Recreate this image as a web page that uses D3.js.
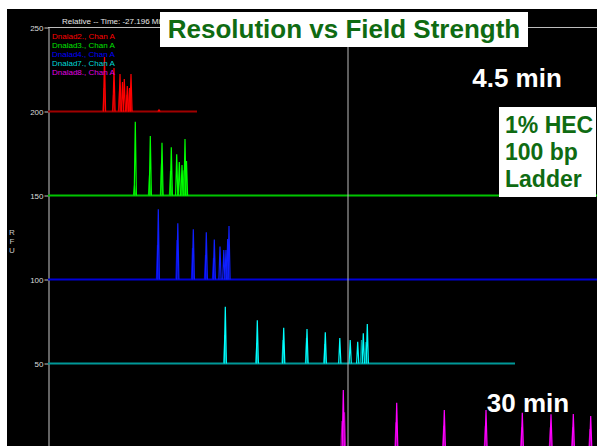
<!DOCTYPE html>
<html><head><meta charset="utf-8">
<script src="https://cdn.jsdelivr.net/npm/d3@7"></script>
<style>
html,body{margin:0;padding:0;background:#fff;overflow:hidden;}
svg{display:block;}
</style></head>
<body>
<svg id="chart" width="597" height="446"></svg>
<script>
// ---------- data (x in scan units, heights in RFU above each trace's offset) ----------
const yTicks = [0, 50, 100, 150, 200, 250];
const traceNames = ["Dnalad2., Chan A","Dnalad3., Chan A","Dnalad4., Chan A","Dnalad7., Chan A","Dnalad8., Chan A"];
const traceOffsets = [200, 150, 100, 50, 0];
const traceStart = [0, 0, 0, 0, 0];
const traceEnd = [149, 550, 550, 467, 550];

const redPeakX = [56.5, 66, 72, 74.5, 76.3, 79.3, 81.5, 83, 111];
const redPeakH = [32.4, 25.9, 22.3, 17.6, 19.3, 15.2, 14, 22.3, 1];
const redShoulderX = [56, 65.5, 71.5, 78.8, 82.5];
const redShoulderH = [14, 10, 12, 10, 12];

const greenPeakX = [87.3, 102.3, 114, 123.3, 128.7, 131.3, 134, 137, 138.5];
const greenPeakH = [43.9, 35.4, 31.4, 28.7, 24.5, 19.9, 18.2, 33.6, 20.5];
const greenShoulderX = [86.5, 101.5, 113.5, 122.5, 135];
const greenShoulderH = [6, 12, 19, 14.6, 15];

const bluePeakX = [110.3, 129.8, 145.3, 158.3, 166.3, 172, 175.8, 178, 179.7, 181];
const bluePeakH = [41.8, 33.5, 29.9, 28.1, 23.8, 19.6, 17.6, 17.6, 24.1, 31.8];
const blueShoulderX = [109.5, 129, 144.5, 157.5, 165.5];
const blueShoulderH = [20.5, 23.5, 18.8, 14.6, 12.8];

const cyanPeakX = [177.3, 209.3, 235.7, 259, 277.3, 291.8, 302.2, 309.7, 315.3, 319.3];
const cyanPeakH = [33.8, 25.7, 21.3, 20.5, 18.6, 15.2, 14, 13, 18, 23.5];
const cyanShoulderX = [176.8, 208.8, 235, 258.5, 276.8, 313.5, 318];
const cyanShoulderH = [17, 12.2, 14, 15.2, 11.6, 14, 12.8];

const magentaPeakX = [295.3, 348.7, 396.3, 438, 474.3, 503, 525.3, 542.7];
const magentaPeakH = [34.2, 26.7, 22.3, 22.3, 20.7, 19.8, 19.9, 18.8];
const magentaShoulderX = [294, 296.5, 348, 395.7, 437.4, 473.7, 502.4, 524.7, 542];
const magentaShoulderH = [15.8, 21, 15, 13, 13, 12, 12, 12, 11];

const cursorX = 300;

// ---------- styles ----------
const brightColors = ["#ff0000", "#00ff00", "#1020ff", "#00ffff", "#ff00ff"];
const darkColors   = ["#a00000", "#00c400", "#0000d8", "#009898", "#a000a0"];
const legendColors = ["#ff0000", "#00e000", "#0000ff", "#00d8d8", "#e000e0"];

const peaks = [
  {px: redPeakX, ph: redPeakH, sx: redShoulderX, sh: redShoulderH},
  {px: greenPeakX, ph: greenPeakH, sx: greenShoulderX, sh: greenShoulderH},
  {px: bluePeakX, ph: bluePeakH, sx: blueShoulderX, sh: blueShoulderH},
  {px: cyanPeakX, ph: cyanPeakH, sx: cyanShoulderX, sh: cyanShoulderH},
  {px: magentaPeakX, ph: magentaPeakH, sx: magentaShoulderX, sh: magentaShoulderH}
];

const svg = d3.select("#chart");
const W = 597, H = 446;
const font = "'Liberation Sans', Arial, sans-serif";

// black panel
svg.append("rect").attr("x", 7).attr("y", 9).attr("width", W - 7).attr("height", H - 9).attr("fill", "#000");

const x = d3.scaleLinear().domain([0, 550]).range([48, 598]);
const y = d3.scaleLinear().domain([0, 250]).range([447.5, 27.5]);

// frame top line
svg.append("line").attr("x1", 48).attr("x2", W).attr("y1", y(250)).attr("y2", y(250))
  .attr("stroke", "#bdbdbd").attr("stroke-width", 1);

// y axis
const yAxis = svg.append("g").attr("transform", "translate(48.5,0)")
  .call(d3.axisLeft(y).tickValues(yTicks).tickSize(4).tickSizeOuter(0).tickPadding(1));
yAxis.select(".domain").attr("stroke", "#c8c8c8");
yAxis.selectAll(".tick line").attr("stroke", "#c8c8c8");
yAxis.selectAll(".tick text").attr("fill", "#dcdcdc")
  .style("font-family", font).style("font-size", "8px");

// RFU label
["R", "F", "U"].forEach((c, i) => {
  svg.append("text").attr("x", 12).attr("y", 235 + i * 9).attr("text-anchor", "middle")
    .attr("fill", "#c8c8c8").style("font-family", font)
    .style("font-size", "8px").text(c);
});

const line = d3.line().x(d => x(d[0])).y(d => y(d[1]));
const halfW = 1.1;

// traces
traceOffsets.forEach((off, i) => {
  const g = svg.append("g");
  g.append("path").datum([[traceStart[i], off], [traceEnd[i], off]])
    .attr("d", line).attr("fill", "none").attr("stroke", darkColors[i]).attr("stroke-width", 1.8);
  const p = peaks[i];
  p.sx.forEach((sx, k) => {
    g.append("path").datum([[sx - halfW, off], [sx, off + p.sh[k]], [sx + halfW, off]])
      .attr("d", line).attr("fill", "none").attr("stroke", darkColors[i]).attr("stroke-width", 1.2);
  });
  p.px.forEach((px, k) => {
    g.append("path").datum([[px - halfW, off], [px, off + p.ph[k]], [px + halfW, off]])
      .attr("d", line).attr("fill", "none").attr("stroke", brightColors[i]).attr("stroke-width", 1.2);
  });
});

// cursor line
svg.append("line").attr("x1", x(cursorX)).attr("x2", x(cursorX)).attr("y1", y(250)).attr("y2", H)
  .attr("stroke", "#bbbbbb").attr("stroke-width", 1);

// header small text
svg.append("text").attr("x", 62).attr("y", 24).attr("fill", "#e8e8e8")
  .style("font-family", font).style("font-size", "8px")
  .text("Relative -- Time:  -27.196  Min");

// legend
traceNames.forEach((n, i) => {
  svg.append("text").attr("x", 52).attr("y", 39 + i * 9).attr("fill", legendColors[i])
    .style("font-family", font).style("font-size", "8px").text(n);
});

// title box
svg.append("rect").attr("x", 160).attr("y", 12).attr("width", 368).attr("height", 35).attr("fill", "#fff");
svg.append("text").attr("x", 344).attr("y", 38).attr("text-anchor", "middle").attr("fill", "#0f6b12")
  .style("font-family", font).style("font-weight", "bold").style("font-size", "26px")
  .text("Resolution vs Field Strength");

// annotations
svg.append("text").attr("x", 517).attr("y", 87).attr("text-anchor", "middle").attr("fill", "#fff")
  .style("font-family", font).style("font-weight", "bold").style("font-size", "26px")
  .text("4.5 min");
svg.append("text").attr("x", 528).attr("y", 412).attr("text-anchor", "middle").attr("fill", "#fff")
  .style("font-family", font).style("font-weight", "bold").style("font-size", "26px")
  .text("30 min");

svg.append("rect").attr("x", 499).attr("y", 107).attr("width", 97).attr("height", 90).attr("fill", "#fff");
["1% HEC", "100 bp", "Ladder"].forEach((t, i) => {
  svg.append("text").attr("x", 505).attr("y", 133 + i * 27).attr("fill", "#0f6b12")
    .style("font-family", font).style("font-weight", "bold").style("font-size", "23px")
    .text(t);
});
</script>
</body></html>
